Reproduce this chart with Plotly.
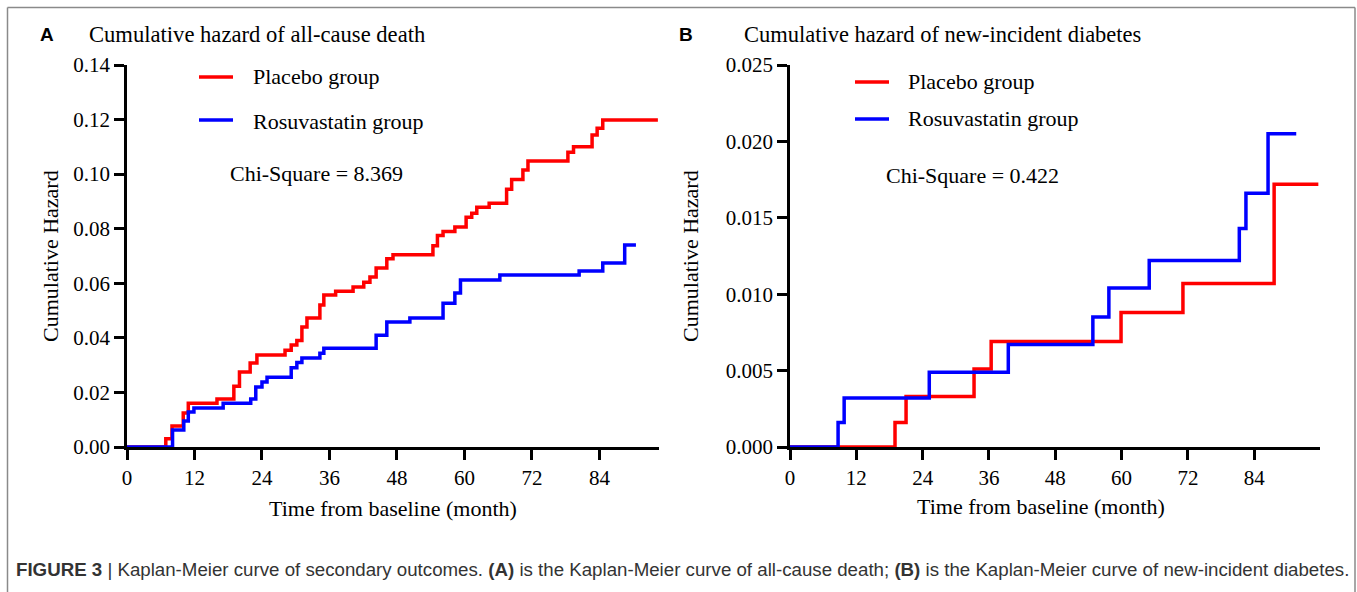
import plotly.graph_objects as go

W, H = 1357, 592

# ---------------- data ----------------
months_ticks = [0, 12, 24, 36, 48, 60, 72, 84]
a_yticks = [0.00, 0.02, 0.04, 0.06, 0.08, 0.10, 0.12, 0.14]
b_yticks = [0.000, 0.005, 0.010, 0.015, 0.020, 0.025]

a_placebo_t = [0, 6.9, 8.0, 10.0, 10.9, 16.0, 19.0, 20.0, 21.9, 23.1, 28.1, 29.2, 30.2, 31.1, 32.0,
               34.3, 35.0, 37.1, 40.2, 42.1, 43.2, 44.3, 46.2, 47.3, 54.4, 55.2, 56.2, 58.3, 60.3,
               61.3, 62.2, 64.4, 67.5, 68.4, 70.4, 71.3, 78.4, 79.4, 82.7, 83.6, 84.6, 94.4]
a_placebo_h = [0, 0.003, 0.0077, 0.0125, 0.016, 0.0176, 0.0223, 0.0275, 0.0308, 0.0337, 0.0355,
               0.0374, 0.039, 0.044, 0.0473, 0.052, 0.0557, 0.0571, 0.0586, 0.0604, 0.0623, 0.0656,
               0.069, 0.0705, 0.0738, 0.0775, 0.079, 0.0806, 0.0842, 0.0857, 0.0879, 0.0893, 0.0945,
               0.098, 0.1015, 0.1048, 0.108, 0.110, 0.1143, 0.1168, 0.1198, 0.1198]

a_rosu_t = [0, 8.1, 10.1, 10.9, 11.9, 17.1, 22.0, 22.9, 24.0, 24.9, 29.2, 30.2, 31.1, 34.3, 35.0,
            44.3, 46.2, 50.3, 56.2, 58.3, 59.3, 66.3, 80.4, 84.6, 88.5, 90.5]
a_rosu_h = [0, 0.0062, 0.0095, 0.0128, 0.0143, 0.016, 0.0176, 0.022, 0.0238, 0.0256, 0.029, 0.031,
            0.0326, 0.0344, 0.0362, 0.041, 0.0458, 0.0473, 0.0527, 0.0564, 0.0612, 0.063, 0.0645,
            0.0674, 0.074, 0.074]

b_placebo_t = [0, 19.0, 21.0, 33.3, 36.4, 59.9, 71.1, 87.6, 95.6]
b_placebo_h = [0, 0.0016, 0.0033, 0.0051, 0.0069, 0.0088, 0.0107, 0.0172, 0.0172]

b_rosu_t = [0, 8.7, 9.8, 25.2, 39.5, 54.8, 57.7, 65.0, 81.3, 82.5, 86.5, 91.6]
b_rosu_h = [0, 0.0016, 0.0032, 0.0049, 0.0067, 0.0085, 0.0104, 0.0122, 0.0143, 0.0166, 0.0205, 0.0205]

RED = "#FF0000"
BLUE = "#0000FF"
SERIF = "Liberation Serif, Times New Roman, serif"
SANS = "Liberation Sans, Arial, sans-serif"


def px(x):
    return x / W


def py(y):
    return 1 - y / H


fig = go.Figure()
fig.add_trace(go.Scatter(x=a_placebo_t, y=a_placebo_h, mode="lines", line=dict(color=RED, width=3.5, shape="hv"),
                         xaxis="x", yaxis="y", showlegend=False))
fig.add_trace(go.Scatter(x=a_rosu_t, y=a_rosu_h, mode="lines", line=dict(color=BLUE, width=3.5, shape="hv"),
                         xaxis="x", yaxis="y", showlegend=False))
fig.add_trace(go.Scatter(x=b_placebo_t, y=b_placebo_h, mode="lines", line=dict(color=RED, width=3.5, shape="hv"),
                         xaxis="x2", yaxis="y2", showlegend=False))
fig.add_trace(go.Scatter(x=b_rosu_t, y=b_rosu_h, mode="lines", line=dict(color=BLUE, width=3.5, shape="hv"),
                         xaxis="x2", yaxis="y2", showlegend=False))

axis_common = dict(showgrid=False, zeroline=False, showline=True, linecolor="black", linewidth=2.5,
                   ticks="outside", ticklen=10, tickwidth=2.5, tickcolor="black", automargin=False,
                   tickfont=dict(family=SERIF, size=21, color="black"), layer="below traces")

ydom = [py(447), py(65)]
fig.update_layout(
    template="none",
    width=W, height=H,
    margin=dict(l=0, r=0, t=0, b=0, pad=0, autoexpand=False),
    paper_bgcolor="white", plot_bgcolor="white",
    xaxis=dict(domain=[px(127), px(659)], range=[0, 94.6], tickvals=months_ticks, anchor="y", **axis_common),
    yaxis=dict(domain=ydom, range=[0, 0.14], tickvals=a_yticks, tickformat=".2f", anchor="x", **axis_common),
    xaxis2=dict(domain=[px(790), px(1320)], range=[0, 95.9], tickvals=months_ticks, anchor="y2", **axis_common),
    yaxis2=dict(domain=ydom, range=[0, 0.025], tickvals=b_yticks, tickformat=".3f", anchor="x2", **axis_common),
)

ann = []


def text(x, y, s, size=22, family=SERIF, xanchor="left", angle=0, color="black"):
    ann.append(dict(x=px(x), y=py(y), xref="paper", yref="paper", text=s, showarrow=False,
                    xanchor=xanchor, yanchor="middle", textangle=angle,
                    font=dict(family=family, size=size, color=color)))


# Panel A
text(38, 35, "<b>A</b>", size=19, family=SANS)
text(87, 34, "Cumulative hazard of all-cause death", size=22.6)
text(251, 77, "Placebo group")
text(251, 121, "Rosuvastatin group")
text(316, 174, "Chi-Square = 8.369", xanchor="center")
text(50, 256, "Cumulative Hazard", xanchor="center", angle=-90)
text(393, 508, "Time from baseline (month)", xanchor="center")

# Panel B
text(677, 35, "<b>B</b>", size=19, family=SANS)
text(742, 35, "Cumulative hazard of new-incident diabetes", size=22.5)
text(906, 82, "Placebo group")
text(906, 119, "Rosuvastatin group")
text(972, 175, "Chi-Square = 0.422", xanchor="center")
text(690, 256, "Cumulative Hazard", xanchor="center", angle=-90)
text(1041, 506, "Time from baseline (month)", xanchor="center")

# caption
text(14, 569, "<b>FIGURE 3</b> | Kaplan-Meier curve of secondary outcomes. <b>(A)</b> is the Kaplan-Meier curve of "
     "all-cause death; <b>(B)</b> is the Kaplan-Meier curve of new-incident diabetes.",
     size=18.7, family=SANS, color="#333333")

fig.update_layout(annotations=ann)

shapes = []
# legend samples
for (x0, x1, y, c) in [(199, 233, 77, RED), (199, 233, 120, BLUE), (855, 889, 82, RED), (855, 889, 119, BLUE)]:
    shapes.append(dict(type="line", xref="paper", yref="paper", x0=px(x0), x1=px(x1), y0=py(y), y1=py(y),
                       line=dict(color=c, width=3.5)))
# frame
for (x0, y0, x1, y1) in [(7.5, 7.5, 7.5, 592), (7.5, 7.5, 1355, 7.5), (1355, 7.5, 1355, 592)]:
    shapes.append(dict(type="line", xref="paper", yref="paper", x0=px(x0), x1=px(x1), y0=py(y0), y1=py(y1),
                       line=dict(color="#8a8a8a", width=1.5)))
fig.update_layout(shapes=shapes)

fig.write_html("out.html", config={"displayModeBar": False},
               post_script="document.body.style.margin='0';document.body.style.padding='0';"
                           "document.documentElement.style.overflow='hidden';")
